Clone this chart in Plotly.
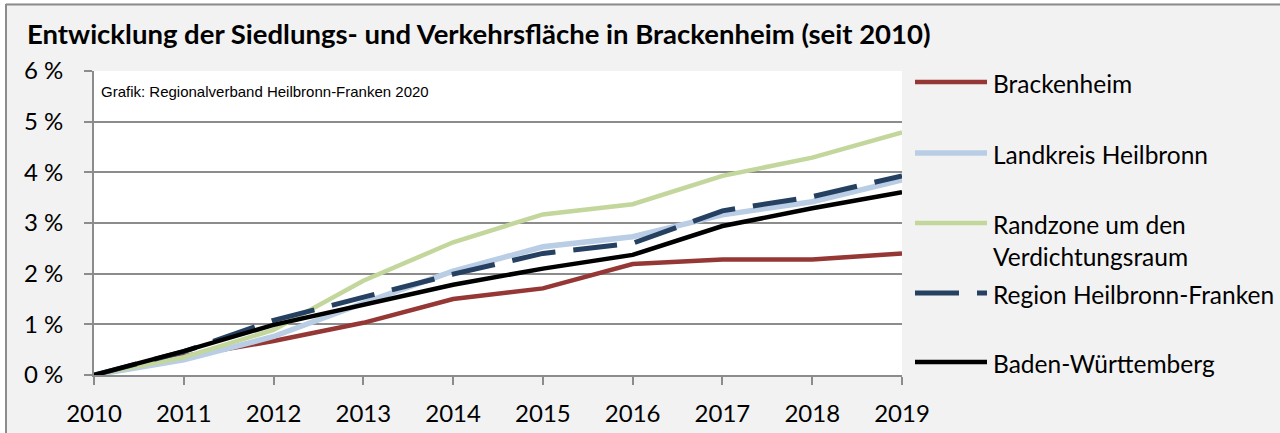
import plotly.graph_objects as go

years = [2010, 2011, 2012, 2013, 2014, 2015, 2016, 2017, 2018, 2019]
brackenheim = [0, 0.37, 0.67, 1.03, 1.50, 1.71, 2.19, 2.28, 2.28, 2.40]
landkreis = [0, 0.30, 0.76, 1.42, 2.05, 2.53, 2.73, 3.16, 3.42, 3.85]
randzone = [0, 0.35, 0.89, 1.86, 2.62, 3.17, 3.37, 3.93, 4.29, 4.79]
region = [0, 0.46, 1.08, 1.53, 1.99, 2.40, 2.60, 3.24, 3.52, 3.93]
bw = [0, 0.47, 0.99, 1.39, 1.78, 2.10, 2.37, 2.94, 3.29, 3.61]

names = ["Brackenheim", "Landkreis Heilbronn", "Randzone um den<br>Verdichtungsraum",
         "Region Heilbronn-Franken", "Baden-Württemberg"]
series = [brackenheim, landkreis, randzone, region, bw]
colors = ["#953735", "#b9cde5", "#c3d69b", "#254061", "#000000"]
widths = [4.5, 5.5, 4.5, 5, 4.5]
dashes = ["solid", "solid", "solid", "44px,18px", "solid"]

W, H = 1280, 433
L, R, T, B = 94, 902, 71, 375
pw, ph = R - L, B - T

def px(x):
    return (x - L) / pw

def py(y):
    return (B - y) / ph

FONT = "Lato"

fig = go.Figure()
for n, s, c, w, d in zip(names, series, colors, widths, dashes):
    fig.add_trace(go.Scatter(x=years, y=s, mode="lines", name=n,
                             line=dict(color=c, width=w, dash=d), showlegend=False,
                             cliponaxis=False))

shapes = []
annotations = []
# chart frame
shapes.append(dict(type="rect", xref="paper", yref="paper", x0=px(-5), x1=px(1290), y0=py(-5), y1=py(3),
                   fillcolor="white", line=dict(width=0), layer="below"))
shapes.append(dict(type="rect", xref="paper", yref="paper", x0=px(-5), x1=px(5), y0=py(-5), y1=py(440),
                   fillcolor="white", line=dict(width=0), layer="below"))
shapes.append(dict(type="line", xref="paper", yref="paper", x0=px(6), x1=px(1290), y0=py(4.5), y1=py(4.5),
                   line=dict(color="#8c8c8c", width=2), layer="below"))
shapes.append(dict(type="line", xref="paper", yref="paper", x0=px(6), x1=px(6), y0=py(4), y1=py(440),
                   line=dict(color="#8c8c8c", width=2), layer="below"))

# manual legend
leg_y = [82, 153, 223, 293, 362]
txt_y = [83, 154, 240, 294, 363]
for n, c, w, d, yy, ty in zip(names, colors, widths, dashes, leg_y, txt_y):
    shapes.append(dict(type="line", xref="paper", yref="paper", x0=px(915), x1=px(987),
                       y0=py(yy), y1=py(yy), line=dict(color=c, width=w, dash=d)))
    annotations.append(dict(xref="paper", yref="paper", x=px(991), y=py(ty),
                            xanchor="left", yanchor="middle", text=n, showarrow=False, align="left",
                            font=dict(family=FONT, size=24.5, color="#000")))

annotations.append(dict(xref="paper", yref="paper", x=px(99), y=py(91), xanchor="left", yanchor="middle",
                        text="Grafik: Regionalverband Heilbronn-Franken 2020", showarrow=False,
                        font=dict(family="Liberation Sans", size=15, color="#000")))

fig.update_layout(
    width=W, height=H,
    margin=dict(l=L, r=W - R, t=T, b=H - B, pad=0),
    paper_bgcolor="#f2f2f2", plot_bgcolor="white",
    title=dict(text="<b>Entwicklung der Siedlungs- und Verkehrsfläche in Brackenheim (seit 2010)</b>",
               x=27 / W, xref="container", xanchor="left", y=1 - 34 / H, yref="container", yanchor="middle",
               font=dict(family=FONT, size=27.5, color="#000")),
    shapes=shapes, annotations=annotations,
    xaxis=dict(range=[2010, 2019], tickvals=years, ticktext=[str(y) for y in years],
               showgrid=False, zeroline=False, showline=True, linecolor="#8c8c8c", linewidth=2,
               ticks="outside", ticklen=8, tickcolor="#8c8c8c", tickwidth=2, automargin=False,
               tickfont=dict(family=FONT, size=24, color="#000"), ticklabelstandoff=8),
    yaxis=dict(range=[0, 6], tickvals=[0, 1, 2, 3, 4, 5, 6],
               ticktext=[f"{v} %" for v in range(7)],
               showgrid=True, gridcolor="#8c8c8c", gridwidth=2, zeroline=False,
               showline=True, linecolor="#8c8c8c", linewidth=2, automargin=False,
               ticks="outside", ticklen=8, tickcolor="#8c8c8c", tickwidth=2,
               tickfont=dict(family=FONT, size=24, color="#000"), ticklabelstandoff=16),
)

fig.write_html("out.html", config={"displayModeBar": False},
               post_script="document.body.style.margin='0';document.body.style.overflow='hidden';")
